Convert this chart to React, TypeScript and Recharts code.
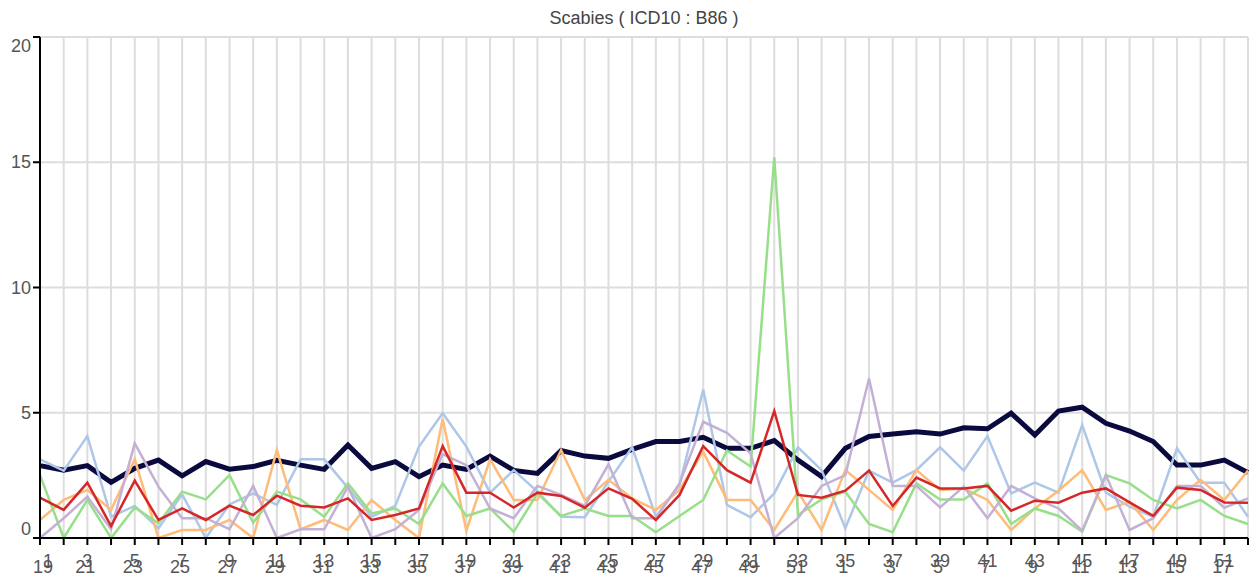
import React from 'react';
import { LineChart, Line, XAxis, YAxis, CartesianGrid } from 'recharts';

const weekIndex = [0, 1, 2, 3, 4, 5, 6, 7, 8, 9, 10, 11, 12, 13, 14, 15, 16, 17, 18, 19, 20, 21, 22, 23, 24, 25, 26, 27, 28, 29, 30, 31, 32, 33, 34, 35, 36, 37, 38, 39, 40, 41, 42, 43, 44, 45, 46, 47, 48, 49, 50, 51];
const weeksCurrent = [1, 2, 3, 4, 5, 6, 7, 8, 9, 10, 11, 12, 13, 14, 15, 16, 17, 18, 19, 20, 21, 22, 23, 24, 25, 26, 27, 28, 29, 30, 31, 32, 33, 34, 35, 36, 37, 38, 39, 40, 41, 42, 43, 44, 45, 46, 47, 48, 49, 50, 51, 52];
const weeksShifted = [19, 20, 21, 22, 23, 24, 25, 26, 27, 28, 29, 30, 31, 32, 33, 34, 35, 36, 37, 38, 39, 40, 41, 42, 43, 44, 45, 46, 47, 48, 49, 50, 51, 52, 1, 2, 3, 4, 5, 6, 7, 8, 9, 10, 11, 12, 13, 14, 15, 16, 17, 18];
const yTicks = [0, 5, 10, 15, 20];

const average = [2.89, 2.71, 2.89, 2.22, 2.78, 3.11, 2.48, 3.05, 2.75, 2.85, 3.10, 2.91, 2.74, 3.71, 2.78, 3.05, 2.45, 2.91, 2.74, 3.27, 2.70, 2.58, 3.49, 3.27, 3.18, 3.54, 3.85, 3.85, 4.02, 3.58, 3.58, 3.89, 3.11, 2.45, 3.58, 4.05, 4.15, 4.24, 4.15, 4.40, 4.36, 4.98, 4.11, 5.07, 5.22, 4.58, 4.27, 3.85, 2.91, 2.91, 3.11, 2.61];
const seriesBlue = [3.14, 2.69, 4.07, 0.85, 1.28, 0.39, 1.74, 0, 1.34, 1.78, 1.32, 3.14, 3.14, 2.0, 0.85, 1.28, 3.65, 4.98, 3.65, 1.81, 2.71, 1.85, 0.85, 0.83, 2.25, 3.62, 0.85, 2.12, 5.93, 1.32, 0.83, 1.78, 3.62, 2.71, 0.39, 2.69, 2.21, 2.71, 3.62, 2.69, 4.07, 1.78, 2.21, 1.81, 4.51, 1.81, 1.25, 0.85, 3.58, 2.21, 2.21, 0.85];
const seriesOrange = [0.72, 1.52, 1.92, 1.12, 3.14, 0, 0.32, 0.32, 0.72, 0, 3.51, 0.35, 0.72, 0.32, 1.52, 0.72, 0, 4.75, 0.29, 3.14, 1.52, 1.52, 3.51, 1.52, 2.32, 1.58, 1.12, 1.92, 3.45, 1.52, 1.52, 0.32, 1.85, 0.32, 2.71, 1.92, 1.12, 2.71, 1.92, 1.98, 1.52, 0.32, 1.18, 1.89, 2.71, 1.12, 1.45, 0.32, 1.52, 2.32, 1.52, 2.69];
const seriesGreen = [2.51, 0, 1.52, 0, 1.22, 0.59, 1.85, 1.54, 2.51, 0.61, 1.85, 1.54, 0.85, 2.18, 0.98, 1.18, 0.56, 2.18, 0.88, 1.18, 0.25, 1.78, 0.88, 1.18, 0.88, 0.88, 0.23, 0.88, 1.52, 3.49, 2.85, 15.2, 0.92, 1.54, 1.85, 0.56, 0.23, 2.18, 1.54, 1.54, 2.18, 0.56, 1.18, 0.88, 0.25, 2.51, 2.18, 1.52, 1.18, 1.52, 0.88, 0.56];
const seriesPurple = [0, 0.79, 1.65, 0.35, 3.78, 2.05, 0.79, 0.79, 0.35, 2.08, 0, 0.35, 0.35, 2.05, 0, 0.35, 1.12, 3.35, 2.91, 1.18, 0.79, 2.08, 1.72, 1.28, 2.94, 0.79, 0.79, 2.18, 4.64, 4.20, 3.38, 0, 0.79, 2.08, 2.51, 6.37, 2.08, 2.08, 1.22, 2.05, 0.79, 2.08, 1.58, 1.18, 0.29, 2.51, 0.32, 0.79, 2.08, 2.08, 1.21, 1.58];
const seriesRed = [1.61, 1.12, 2.21, 0.48, 2.29, 0.72, 1.18, 0.72, 1.29, 0.92, 1.69, 1.29, 1.22, 1.58, 0.72, 0.92, 1.18, 3.67, 1.81, 1.81, 1.22, 1.81, 1.68, 1.21, 1.98, 1.56, 0.72, 1.72, 3.67, 2.71, 2.21, 5.07, 1.72, 1.61, 1.89, 2.69, 1.28, 2.41, 1.98, 1.98, 2.08, 1.09, 1.49, 1.41, 1.81, 1.98, 1.42, 0.88, 2.01, 1.92, 1.42, 1.41];

const data = weekIndex.map((i, k) => ({
  i,
  average: average[k],
  blue: seriesBlue[k],
  orange: seriesOrange[k],
  green: seriesGreen[k],
  purple: seriesPurple[k],
  red: seriesRed[k],
}));

const FONT = '"Liberation Sans", Arial, Helvetica, sans-serif';

const XTick = (props: any) => {
  const { x, y, payload } = props;
  const idx = payload.value as number;
  if (idx % 2 !== 0) return <g />;
  const shift1 = idx === 0 ? 8 : 0;
  const shift2 = idx === 0 ? 5 : 0;
  return (
    <g>
      <text x={x + shift1} y={y + 20} textAnchor="middle" fill="#555" fontSize={18} fontFamily={FONT}>
        {weeksCurrent[idx]}
      </text>
      <text x={x + shift2 - 2} y={y + 26} textAnchor="middle" fill="#555" fontSize={18} fontFamily={FONT}>
        {weeksShifted[idx]}
      </text>
    </g>
  );
};

const YTick = (props: any) => {
  const { x, y, payload } = props;
  const v = payload.value as number;
  const dy = v === 20 ? 9 : v === 0 ? -9 : 0;
  return (
    <text x={x} y={y + dy + 6} textAnchor="end" fill="#555" fontSize={18} fontFamily={FONT}>
      {v}
    </text>
  );
};

export default function App() {
  return (
    <div style={{ position: 'absolute', left: 0, top: 0, width: 1257, height: 579, background: '#fff' }}>
      <div
        style={{
          position: 'absolute',
          left: 40,
          width: 1208,
          top: 8,
          textAlign: 'center',
          fontFamily: FONT,
          fontSize: 18,
          lineHeight: '20px',
          color: '#444',
        }}
      >
        Scabies ( ICD10 : B86 )
      </div>
      <LineChart width={1257} height={579} data={data} margin={{ top: 37, right: 9, bottom: 0, left: 0 }}>
        <CartesianGrid stroke="#ddd" strokeWidth={2} />
        <XAxis
          dataKey="i"
          type="number"
          domain={[0, 51]}
          ticks={weekIndex}
          interval={0}
          height={41}
          tickSize={7}
          tick={<XTick />}
          axisLine={{ stroke: '#000', strokeWidth: 2 }}
          tickLine={{ stroke: '#000', strokeWidth: 2 }}
        />
        <YAxis
          type="number"
          domain={[0, 20]}
          ticks={yTicks}
          width={40}
          tickSize={7}
          tick={<YTick />}
          axisLine={{ stroke: '#000', strokeWidth: 2 }}
          tickLine={{ stroke: '#000', strokeWidth: 2 }}
        />
        <Line dataKey="average" stroke="#0a0a3e" strokeWidth={5} dot={false} activeDot={false} isAnimationActive={false} />
        <Line dataKey="blue" stroke="#aec7e8" strokeWidth={2.5} dot={false} activeDot={false} isAnimationActive={false} />
        <Line dataKey="orange" stroke="#ffbb78" strokeWidth={2.5} dot={false} activeDot={false} isAnimationActive={false} />
        <Line dataKey="green" stroke="#98df8a" strokeWidth={2.5} dot={false} activeDot={false} isAnimationActive={false} />
        <Line dataKey="purple" stroke="#c5b0d5" strokeWidth={2.5} dot={false} activeDot={false} isAnimationActive={false} />
        <Line dataKey="red" stroke="#d62728" strokeWidth={2.5} dot={false} activeDot={false} isAnimationActive={false} />
      </LineChart>
    </div>
  );
}
